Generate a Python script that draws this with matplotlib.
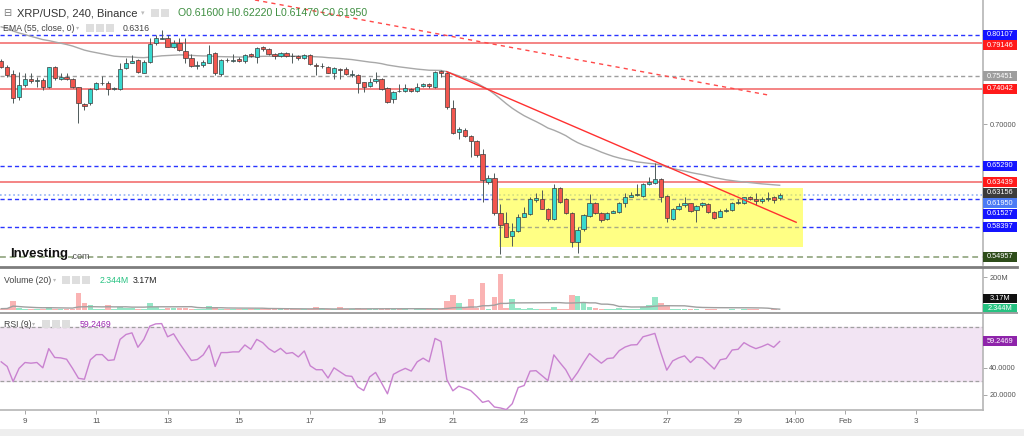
import numpy as np
import pandas as pd
import matplotlib
matplotlib.use("Agg")
import matplotlib.pyplot as plt
import matplotlib.transforms as mtransforms
from matplotlib.patches import Rectangle
from matplotlib.lines import Line2D

plt.rcParams['font.family'] = ['Liberation Sans', 'DejaVu Sans']

# -------------------------------
# data (XRP/USD 4h candles, Jan 8 08:00 -> Jan 30 04:00)
# -------------------------------
opens = [0.7720, 0.7644, 0.7569, 0.7304, 0.7444, 0.7508, 0.7490, 0.7501, 0.7418, 0.7644,
         0.7508, 0.7539, 0.7508, 0.7418, 0.7229, 0.7237, 0.7395, 0.7463, 0.7471, 0.7399,
         0.7399, 0.7633, 0.7697, 0.7727, 0.7584, 0.7701, 0.7916, 0.7966, 0.7973, 0.7871,
         0.7916, 0.7833, 0.7746, 0.7659, 0.7675, 0.7697, 0.7811, 0.7569, 0.7731, 0.7720,
         0.7743, 0.7720, 0.7795, 0.7765, 0.7871, 0.7848, 0.7792, 0.7773, 0.7803, 0.7777,
         0.7773, 0.7746, 0.7784, 0.7675, 0.7659, 0.7652, 0.7584, 0.7625, 0.7622, 0.7554,
         0.7558, 0.7478, 0.7433, 0.7490, 0.7512, 0.7406, 0.7282, 0.7380, 0.7380, 0.7395,
         0.7376, 0.7433, 0.7452, 0.7418, 0.7599, 0.7584, 0.7188, 0.6915, 0.6935, 0.6866,
         0.6810, 0.6659, 0.6349, 0.6387, 0.5998, 0.5877, 0.5734, 0.5794, 0.5952, 0.5983,
         0.6138, 0.6149, 0.6040, 0.5922, 0.6281, 0.6149, 0.5990, 0.5669, 0.5809, 0.5960,
         0.6111, 0.5998, 0.5922, 0.5998, 0.6009, 0.6111, 0.6176, 0.6198, 0.6187, 0.6323,
         0.6338, 0.6376, 0.6187, 0.5922, 0.6036, 0.6081, 0.6104, 0.6028, 0.6081, 0.6096,
         0.6009, 0.5953, 0.6013, 0.6028, 0.6104, 0.6111, 0.6172, 0.6149, 0.6126, 0.6149,
         0.6172, 0.6160]
highs = [0.7740, 0.7670, 0.7614, 0.7595, 0.7576, 0.7576, 0.7539, 0.7520, 0.7652, 0.7659,
         0.7576, 0.7584, 0.7520, 0.7425, 0.7244, 0.7406, 0.7482, 0.7546, 0.7490, 0.7425,
         0.7690, 0.7746, 0.7784, 0.7735, 0.7727, 0.7973, 0.8011, 0.8067, 0.8011, 0.7954,
         0.7973, 0.7973, 0.7795, 0.7720, 0.7727, 0.7897, 0.7822, 0.7735, 0.7746, 0.7795,
         0.7765, 0.7795, 0.7803, 0.7878, 0.7886, 0.7860, 0.7803, 0.7822, 0.7822, 0.7803,
         0.7784, 0.7795, 0.7795, 0.7697, 0.7697, 0.7659, 0.7644, 0.7633, 0.7644, 0.7614,
         0.7569, 0.7482, 0.7520, 0.7595, 0.7520, 0.7425, 0.7380, 0.7456, 0.7456, 0.7406,
         0.7471, 0.7471, 0.7463, 0.7607, 0.7614, 0.7595, 0.7274, 0.6972, 0.6953, 0.6878,
         0.6821, 0.6715, 0.6425, 0.6451, 0.6096, 0.6009, 0.5884, 0.5983, 0.6066, 0.6172,
         0.6217, 0.6255, 0.6047, 0.6323, 0.6292, 0.6160, 0.6009, 0.5839, 0.5983, 0.6209,
         0.6123, 0.6009, 0.6009, 0.6028, 0.6123, 0.6217, 0.6236, 0.6323, 0.6338, 0.6398,
         0.6564, 0.6387, 0.6198, 0.6047, 0.6111, 0.6172, 0.6111, 0.6085, 0.6123, 0.6104,
         0.6017, 0.6036, 0.6047, 0.6123, 0.6149, 0.6179, 0.6187, 0.6217, 0.6179, 0.6236,
         0.6187, 0.6222]
lows = [0.7633, 0.7539, 0.7237, 0.7274, 0.7425, 0.7471, 0.7425, 0.7388, 0.7410, 0.7501,
        0.7501, 0.7501, 0.7406, 0.7010, 0.7161, 0.7218, 0.7388, 0.7444, 0.7331, 0.7388,
        0.7388, 0.7625, 0.7690, 0.7584, 0.7576, 0.7690, 0.7897, 0.7962, 0.7871, 0.7860,
        0.7833, 0.7690, 0.7644, 0.7622, 0.7652, 0.7690, 0.7557, 0.7546, 0.7709, 0.7709,
        0.7709, 0.7690, 0.7758, 0.7690, 0.7833, 0.7784, 0.7735, 0.7758, 0.7765, 0.7690,
        0.7727, 0.7735, 0.7675, 0.7557, 0.7633, 0.7576, 0.7508, 0.7508, 0.7557, 0.7539,
        0.7350, 0.7369, 0.7425, 0.7471, 0.7388, 0.7244, 0.7244, 0.7369, 0.7369, 0.7369,
        0.7369, 0.7425, 0.7406, 0.7406, 0.7539, 0.7169, 0.6889, 0.6829, 0.6851, 0.6625,
        0.6632, 0.6123, 0.6323, 0.5971, 0.5530, 0.5718, 0.5620, 0.5783, 0.5945, 0.5971,
        0.6123, 0.6036, 0.5907, 0.5915, 0.6111, 0.5983, 0.5605, 0.5545, 0.5794, 0.5953,
        0.5983, 0.5896, 0.5915, 0.5990, 0.5998, 0.6066, 0.6172, 0.6187, 0.6179, 0.6311,
        0.6323, 0.6123, 0.5896, 0.5915, 0.6028, 0.6066, 0.6009, 0.5896, 0.6066, 0.5998,
        0.5926, 0.5945, 0.6006, 0.6021, 0.6096, 0.6096, 0.6142, 0.6085, 0.6104, 0.6134,
        0.6111, 0.6147]
closes = [0.7644, 0.7557, 0.7293, 0.7444, 0.7508, 0.7490, 0.7501, 0.7418, 0.7644, 0.7520,
          0.7531, 0.7512, 0.7418, 0.7237, 0.7210, 0.7395, 0.7463, 0.7471, 0.7399, 0.7410,
          0.7625, 0.7697, 0.7720, 0.7595, 0.7709, 0.7908, 0.7973, 0.7977, 0.7878, 0.7916,
          0.7841, 0.7746, 0.7659, 0.7675, 0.7705, 0.7795, 0.7576, 0.7727, 0.7724, 0.7727,
          0.7720, 0.7788, 0.7773, 0.7863, 0.7848, 0.7792, 0.7773, 0.7803, 0.7773, 0.7769,
          0.7750, 0.7784, 0.7682, 0.7659, 0.7663, 0.7584, 0.7633, 0.7614, 0.7569, 0.7565,
          0.7463, 0.7426, 0.7482, 0.7508, 0.7395, 0.7255, 0.7369, 0.7376, 0.7406, 0.7376,
          0.7425, 0.7456, 0.7433, 0.7588, 0.7576, 0.7199, 0.6897, 0.6946, 0.6866, 0.6810,
          0.6651, 0.6368, 0.6387, 0.5990, 0.5858, 0.5726, 0.5790, 0.5952, 0.5998, 0.6149,
          0.6160, 0.6043, 0.5922, 0.6277, 0.6123, 0.5990, 0.5669, 0.5801, 0.5971, 0.6111,
          0.5990, 0.5915, 0.5990, 0.6013, 0.6111, 0.6172, 0.6198, 0.6213, 0.6323, 0.6349,
          0.6376, 0.6179, 0.5934, 0.6036, 0.6074, 0.6104, 0.6021, 0.6077, 0.6104, 0.6009,
          0.5934, 0.6021, 0.6028, 0.6104, 0.6123, 0.6172, 0.6149, 0.6126, 0.6149, 0.6164,
          0.6142, 0.6195]

# volume in millions
volumes = [10, 12, 54, 14, 10, 8, 7, 9, 18, 10,
           8, 7, 9, 106, 42, 30, 10, 10, 34, 8,
           18, 12, 16, 10, 9, 42, 18, 10, 14, 12,
           14, 14, 10, 8, 7, 28, 18, 10, 6, 7,
           6, 8, 6, 10, 7, 8, 6, 6, 6, 7,
           6, 6, 10, 22, 8, 10, 9, 18, 8, 7,
           16, 10, 8, 9, 10, 12, 9, 6, 6, 5,
           6, 6, 8, 10, 8, 54, 90, 46, 14, 68,
           14, 162, 10, 80, 216, 14, 66, 12, 10, 12,
           8, 10, 10, 18, 8, 8, 90, 84, 42, 22,
           14, 10, 6, 6, 14, 8, 8, 10, 20, 32,
           80, 46, 30, 8, 6, 6, 7, 8, 5, 6,
           6, 5, 4, 6, 5, 6, 7, 8, 5, 5,
           6, 2.344]

rsi = [44.3, 40.9, 29.8, 39.5, 43.8, 43.3, 43.8, 39.9, 54.0, 47.5,
       47.2, 46.2, 39.5, 32.2, 31.5, 45.8, 49.6, 49.6, 45.3, 45.8,
       60.8, 64.4, 65.6, 55.0, 60.8, 70.5, 72.2, 72.4, 62.7, 64.9,
       57.9, 51.6, 45.3, 46.0, 49.4, 56.4, 40.9, 51.1, 51.1, 51.6,
       51.6, 56.7, 53.5, 60.8, 58.4, 54.0, 51.3, 54.2, 50.4, 51.1,
       47.9, 52.3, 41.4, 38.5, 38.5, 32.4, 39.9, 37.0, 34.1, 33.6,
       25.9, 23.2, 33.2, 36.5, 28.8, 20.8, 35.1, 37.5, 39.5, 37.5,
       44.3, 47.0, 44.3, 61.5, 59.3, 31.2, 23.0, 26.4, 24.9, 23.2,
       19.1, 14.5, 15.7, 11.1, 10.4, 9.2, 13.5, 25.4, 26.9, 37.5,
       37.8, 34.1, 30.5, 49.4, 43.8, 38.5, 30.5, 36.5, 43.8, 50.4,
       46.7, 43.3, 46.7, 47.2, 52.5, 55.2, 56.7, 56.9, 62.7, 63.9,
       65.2, 51.1, 38.2, 45.0, 47.2, 48.7, 43.8, 47.9, 47.2, 43.1,
       39.0, 45.8, 46.7, 53.0, 53.5, 58.4, 55.9, 54.0, 55.5, 57.4,
       55.0, 59.2469]

# horizontal levels drawn on the chart
level_prices = [0.80107, 0.79146, 0.75451, 0.74042, 0.65290, 0.63439, 0.61527, 0.58397, 0.54957]
level_kinds = ['blue', 'red', 'grey', 'red', 'blue', 'red', 'blue', 'blue', 'green']
ema_last = 0.63156
ema_seed = 0.812

# drawn objects: (day, price) pairs
trend_solid = [(20.83, 0.7595), (30.63, 0.5889)]
trend_dashed = [(15.45, 0.8407), (29.84, 0.7331)]
box_days = (22.30, 30.82)
box_prices = (0.5606, 0.6277)

tick_days = [9, 11, 13, 15, 17, 19, 21, 23, 25, 27, 29, 30 + 14 / 24, 32, 34]
tick_names = ['9', '11', '13', '15', '17', '19', '21', '23', '25', '27', '29', '14:00', 'Feb', '3']

# -------------------------------
# derived series
# -------------------------------
df = pd.DataFrame({'open': opens, 'high': highs, 'low': lows, 'close': closes,
                   'volume': volumes, 'rsi': rsi})
df['day'] = 8 + 8 / 24 + np.arange(len(df)) * 4 / 24
df['up'] = df['close'] >= df['open']

ema = []
e = ema_seed
for c in df['close']:
    e = e + 2 / 56 * (c - e)
    ema.append(e)
df['ema'] = ema
df['vol_ma'] = df['volume'].rolling(20, min_periods=1).mean()

# -------------------------------
# figure layout (pixel based)
# -------------------------------
W, H = 1024, 436
AXR = 983


def rect(l, t, r, b):
    return [l / W, 1 - b / H, (r - l) / W, (b - t) / H]


fig = plt.figure(figsize=(W / 100, H / 100), dpi=100)
fig.patch.set_facecolor('white')

ax = fig.add_axes(rect(0, 0, AXR, 265))
axv = fig.add_axes(rect(0, 268, AXR, 312))
axr = fig.add_axes(rect(0, 314, AXR, 410))

xlim = (8.299, 35.87)
UP = '#38d9cf'
DOWN = '#f2564e'
GRID = '#b5b5b5'

for a in (ax, axv, axr):
    a.set_xlim(*xlim)
    a.set_facecolor('white')
    for s in ('top', 'left', 'bottom'):
        a.spines[s].set_visible(False)
    a.spines['right'].set_color(GRID)
    a.spines['right'].set_linewidth(1.2)
    a.yaxis.tick_right()
    a.tick_params(axis='y', length=3, width=0.6, color='#999999',
                  labelsize=5.3, labelcolor='#555555', pad=1.5)
    a.set_xticks([])

# -------------------------------
# price panel
# -------------------------------
ax.set_ylim(0.5405, 0.8407)
ax.set_yticks([0.70])
ax.set_yticklabels(['0.70000'])

styles = {
    'blue': dict(color='#2a35ff', lw=1.0, dashes=(3, 2.2)),
    'red': dict(color='#f26464', lw=1.3, alpha=0.85),
    'grey': dict(color='#9e9e9e', lw=1.0, dashes=(3, 2.2)),
    'green': dict(color='#9fb08f', lw=1.4, dashes=(3, 2)),
}
for p, k in zip(level_prices, level_kinds):
    ax.axhline(p, zorder=1, **styles[k])
ax.axhline(df['close'].iloc[-1], color='#92b2f5', lw=1.2, ls=':', zorder=1)

ax.add_patch(Rectangle((box_days[0], box_prices[0]), box_days[1] - box_days[0],
                       box_prices[1] - box_prices[0], facecolor=(1, 1, 0.2),
                       alpha=0.6, edgecolor='none', zorder=2))

ax.plot(df['day'], df['ema'], color='#a8a8a8', lw=1, zorder=3)

colors = np.where(df['up'], UP, DOWN)
ax.vlines(df['day'], df['low'], df['high'], color='#4f5a5a', lw=0.7, zorder=4)
body_low = np.minimum(df['open'], df['close'])
body_h = np.maximum((df['close'] - df['open']).abs(), 0.0003)
ax.bar(df['day'], body_h, bottom=body_low, width=0.12, color=colors,
       edgecolor='#3d3d3d', linewidth=0.5, zorder=4)

ax.plot(*zip(*trend_solid), color='#ff3030', lw=1, zorder=5)
ax.plot(*zip(*trend_dashed), color='#ff4a4a', lw=1, dashes=(3, 3), zorder=5)


def tag(a, y, text, fc, h_px, ax_h_px, tc='white'):
    lo, hi = a.get_ylim()
    h = (hi - lo) / ax_h_px * h_px
    tr = mtransforms.blended_transform_factory(a.transAxes, a.transData)
    wfrac = 34 / AXR
    a.add_patch(Rectangle((1.0, y - h / 2), wfrac, h, transform=tr, facecolor=fc,
                          edgecolor='none', clip_on=False, zorder=10))
    a.text(1.0 + wfrac / 2, y, text, transform=tr, ha='center', va='center',
           fontsize=5.3, color=tc, clip_on=False, zorder=11)


tag_colors = {'blue': '#1414ff', 'red': '#ff1a1a', 'grey': '#9e9e9e', 'green': '#2e4d1a'}
tags = [(p, tag_colors[k]) for p, k in zip(level_prices, level_kinds)]
tags.append((ema_last, '#3c3c3c'))
tags.append((df['close'].iloc[-1], '#4d7cf5'))
tags.sort(key=lambda x: -x[0])
ppx = (0.8407 - 0.5405) / 265
gap = 10.5 * ppx
prev = None
for p, fc in tags:
    y = p if prev is None else min(p, prev - gap)
    tag(ax, y, f'{p:.5f}', fc, 10, 265)
    prev = y

# -------------------------------
# volume panel
# -------------------------------
axv.set_ylim(-10, 254)
axv.set_yticks([200])
axv.set_yticklabels(['200M'])
vcolors = np.where(df['up'], '#95e6c6', '#fab3b3')
axv.bar(df['day'], df['volume'], width=0.16, color=vcolors, zorder=2)
axv.plot(df['day'], df['vol_ma'], color='#a0a0a0', lw=1, zorder=3)
vppx = 264 / 44
tag(axv, 254 - (298 - 268) * vppx, '3.17M', '#111111', 9, 44)
tag(axv, 254 - (308.5 - 268) * vppx, '2.344M', '#26c281', 9, 44)

# -------------------------------
# RSI panel
# -------------------------------
axr.set_ylim(8.9, 79.45)
axr.set_yticks([20, 40])
axr.set_yticklabels(['20.0000', '40.0000'])
axr.axhspan(30, 70, color='#f2e4f3', zorder=1)
axr.axhline(70, color='#a0a0a0', lw=0.9, dashes=(3, 2), zorder=2)
axr.axhline(30, color='#a0a0a0', lw=0.9, dashes=(3, 2), zorder=2)
axr.plot(df['day'], df['rsi'], color='#c982d0', lw=1, zorder=3)
tag(axr, df['rsi'].iloc[-1], '59.2469', '#8e24aa', 10, 96)

axr.spines['bottom'].set_visible(True)
axr.spines['bottom'].set_color(GRID)
axr.spines['bottom'].set_linewidth(1.2)
axr.set_xticks(tick_days)
axr.set_xticklabels(tick_names)
axr.tick_params(axis='x', length=3, width=0.6, color='#999999',
                labelsize=5.8, labelcolor='#555555', pad=3)

# -------------------------------
# separators, legends and labels
# -------------------------------
fig.add_artist(Line2D([0, 1017 / W], [1 - 267 / H] * 2, color='#7d7d7d', lw=2))
fig.add_artist(Line2D([0, 1017 / W], [1 - 313 / H] * 2, color='#a0a0a0', lw=1.4))
fig.add_artist(Rectangle((0, 0), 1, 7 / H, transform=fig.transFigure,
                         facecolor='#eeeeee', edgecolor='none'))


def ftext(x, y, s, **kw):
    fig.text(x / W, 1 - y / H, s, va='center', ha='left', **kw)


def icons(x0, y, n):
    for k in range(n):
        fig.add_artist(Rectangle(((x0 + k * 10) / W, 1 - (y + 4) / H), 8 / W, 8 / H,
                                 transform=fig.transFigure, facecolor='#dedede',
                                 edgecolor='none'))


ftext(3, 13, '⊟', fontsize=7, color='#777777', family=['DejaVu Sans'])
ftext(17, 13, 'XRP/USD, 240, Binance', fontsize=8, color='#333333')
ftext(141, 13, '▾', fontsize=5, color='#bbbbbb', family=['DejaVu Sans'])
icons(151, 13, 2)
ftext(178, 13, 'O0.61600 H0.62220 L0.61470 C0.61950', fontsize=7.6, color='#3e8e41')

ftext(3, 28, 'EMA (55, close, 0)', fontsize=6.3, color='#444444')
ftext(76, 28, '▾', fontsize=4.5, color='#bbbbbb', family=['DejaVu Sans'])
icons(86, 28, 3)
ftext(123, 28, '0.6316', fontsize=6.3, color='#444444')

ftext(4, 280, 'Volume (20)', fontsize=6.3, color='#444444')
ftext(53, 280, '▾', fontsize=4.5, color='#bbbbbb', family=['DejaVu Sans'])
icons(62, 280, 3)
ftext(100, 280, '2.344M', fontsize=6.3, color='#26c281')
ftext(133, 280, '3.17M', fontsize=6.3, color='#222222')

ftext(4, 324, 'RSI (9)', fontsize=6.3, color='#444444')
ftext(32, 324, '▾', fontsize=4.5, color='#bbbbbb', family=['DejaVu Sans'])
icons(42, 324, 3)
ftext(80, 324, '59.2469', fontsize=6.3, color='#9c27b0')

ftext(10, 254, 'Investing', fontsize=9.5, color='#111111', fontweight='bold')
ftext(70, 256, '.com', fontsize=6.5, color='#555555')

fig.savefig('out.png', dpi=100)
